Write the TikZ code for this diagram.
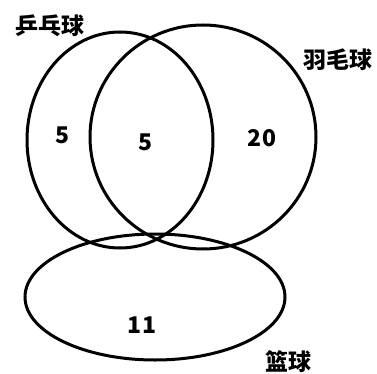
\documentclass[tikz,border=0pt]{standalone}
\usepackage{fontspec}
\newfontfamily\cjk{Noto Sans CJK SC}
\begin{document}
\begin{tikzpicture}[x=1pt,y=-1pt,line width=3pt,
  every node/.style={font=\cjk\bfseries\fontsize{23}{25}\selectfont},
  setname/.style={font=\cjk\bfseries\fontsize{23}{25}\selectfont}]
\useasboundingbox (0,0) rectangle (377,374);
\draw (120,140) ellipse [x radius=93,y radius=108];
\draw (203,137) ellipse [x radius=113,y radius=112];
\draw (155,297) ellipse [x radius=130,y radius=63];
\node[setname] (pingpong) at (50,26) {乒乓球};
\node[setname] (badminton) at (338,60) {羽毛球};
\node[setname] (basketball) at (288,362) {篮球};
\node (onlyP) at (63,135) {5};
\node (both) at (146,142) {5};
\node (onlyB) at (262,138) {20};
\node (onlyK) at (142,325) {11};
\end{tikzpicture}
\end{document}
